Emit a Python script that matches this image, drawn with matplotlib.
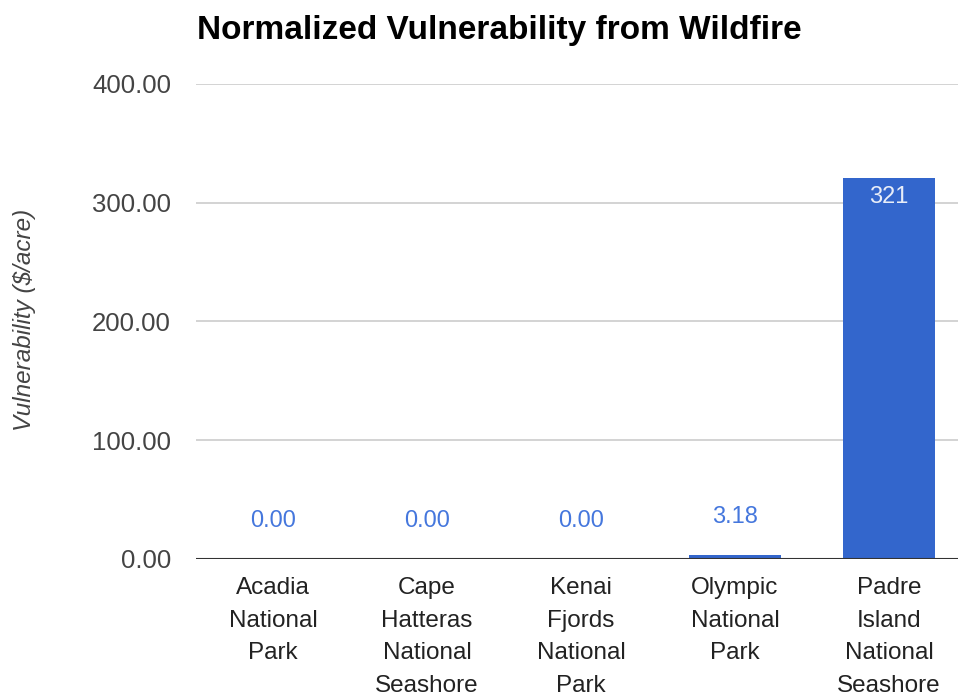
import matplotlib.pyplot as plt

parks = ["Acadia\nNational\nPark", "Cape\nHatteras\nNational\nSeashore",
         "Kenai\nFjords\nNational\nPark", "Olympic\nNational\nPark",
         "Padre\nIsland\nNational\nSeashore"]
values = [0.0, 0.0, 0.0, 3.18, 321.0]
labels = ["0.00", "0.00", "0.00", "3.18", "321"]
yticks = [0, 100, 200, 300, 400]

plt.rcParams['font.family'] = ['Liberation Sans', 'DejaVu Sans']

fig = plt.figure(figsize=(9.58, 6.96), dpi=100)
ax = fig.add_axes([196 / 958, 1 - 559 / 696, 762 / 958, 475 / 696])

x = range(len(parks))
bars = ax.bar(x, values, width=0.6, color="#3366cc", zorder=3)

# value labels: outside in blue for small bars, inside in white for tall bar
for i, (v, lab) in enumerate(zip(values, labels)):
    if v > 50:
        ax.text(i, v - 7, lab, ha="center", va="top", color="#e8edf8",
                fontsize=17, zorder=4)
    else:
        ax.text(i, v + 32, lab, ha="center", va="center", color="#4577dd",
                fontsize=17, zorder=4)

ax.set_xlim(-0.5, 4.5 - 8 / 154)
ax.set_ylim(0, 400)
ax.set_yticks(yticks)
ax.set_yticklabels([f"{t:.2f}" for t in yticks])
ax.set_xticks(list(x))
ax.set_xticklabels(parks, linespacing=1.63)

ax.grid(axis="y", color="#cccccc", linewidth=1.2, zorder=0)
ax.axhline(0, color="#333333", linewidth=1.5, zorder=5)
for s in ax.spines.values():
    s.set_visible(False)
ax.tick_params(axis="both", length=0, colors="#444444")
ax.tick_params(axis="y", pad=18, labelsize=18.5)
ax.tick_params(axis="x", pad=13, labelsize=17.5, labelcolor="#222222")

fig.text(25 / 958, 1 - 320 / 696, r"Vulnerability (\$/acre)", rotation=90,
         ha="center", va="center", style="italic", color="#444444", fontsize=17.5)
fig.text(197 / 958, 1 - 31 / 696, "Normalized Vulnerability from Wildfire",
         ha="left", va="center", fontweight="bold", fontsize=24, color="#000000")

fig.savefig("out.png", dpi=100)
